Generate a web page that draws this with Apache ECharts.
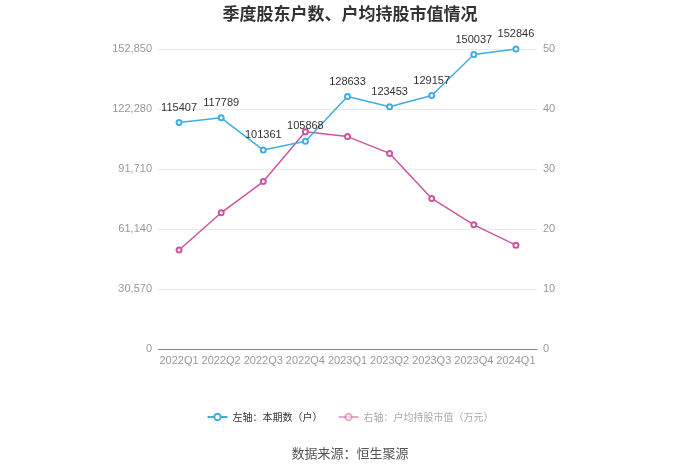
<!DOCTYPE html>
<html style="height: 100%">
<head>
    <meta charset="utf-8">
    <title>季度股东户数、户均持股市值情况</title>
    <script type="text/javascript" src="https://cdn.jsdelivr.net/npm/echarts@6/dist/echarts.min.js"></script>
</head>
<body style="width: 100%;margin: 0;height: 100%">
<div id="container" style="width: 700px;height: 473px"></div>
<script type="application/javascript">
    // 季度
    var quarters = ['2022Q1', '2022Q2', '2022Q3', '2022Q4', '2023Q1', '2023Q2', '2023Q3', '2023Q4', '2024Q1'];
    // 左轴: 本期数(户)
    var holders = [115407, 117789, 101361, 105868, 128633, 123453, 129157, 150037, 152846];
    // 右轴: 户均持股市值(万元)
    var avgValue = [16.5, 22.7, 27.9, 36.2, 35.4, 32.6, 25.1, 20.7, 17.3];

    var blue = '#41ace3';
    var pink = '#cc559f';

    var dom = document.getElementById("container");
    var myChart = echarts.init(dom);

    var option = {
        animation: false,
        title: {
            text: '季度股东户数、户均持股市值情况',
            left: 'center',
            top: 0,
            textStyle: {fontSize: 17, fontWeight: 'bold', color: '#333', fontFamily: 'Noto Sans CJK SC'}
        },
        legend: {
            bottom: 46,
            itemGap: 15,
            itemWidth: 20,
            itemHeight: 8,
            textStyle: {fontSize: 10, fontFamily: 'Noto Sans CJK SC', color: '#333'},
            data: [
                {name: '左轴：本期数（户）'},
                {name: '右轴：户均持股市值（万元）', textStyle: {color: '#aaa'}, itemStyle: {opacity: 0.5}, lineStyle: {opacity: 0.5}}
            ]
        },
        graphic: [{
            type: 'text',
            left: 'center',
            top: 447,
            style: {text: '数据来源：恒生聚源', fontSize: 13, fill: '#555', fontFamily: 'Noto Sans CJK SC'}
        }],
        grid: {left: 158, right: 163, top: 49, bottom: 124},
        xAxis: {
            type: 'category',
            data: quarters,
            axisLine: {lineStyle: {color: '#888'}},
            axisTick: {alignWithLabel: true, lineStyle: {color: '#888'}},
            axisLabel: {color: '#999', fontSize: 11, margin: 6, interval: 0}
        },
        yAxis: [{
            type: 'value',
            min: 0,
            max: 152850,
            interval: 30570,
            axisLabel: {
                color: '#999', fontSize: 11, margin: 6,
                formatter: function (v) { return v.toLocaleString('en-US'); }
            },
            splitLine: {lineStyle: {color: '#e8ebf0'}}
        }, {
            type: 'value',
            min: 0,
            max: 50,
            interval: 10,
            axisLabel: {color: '#999', fontSize: 11, margin: 6},
            splitLine: {show: false}
        }],
        series: [{
            name: '左轴：本期数（户）',
            type: 'line',
            yAxisIndex: 0,
            data: holders,
            symbol: 'emptyCircle',
            symbolSize: 5,
            color: blue,
            lineStyle: {width: 1.5, color: blue},
            label: {show: true, position: 'top', color: '#333', fontSize: 11, distance: 6},
            z: 3
        }, {
            name: '右轴：户均持股市值（万元）',
            type: 'line',
            yAxisIndex: 1,
            data: avgValue,
            symbol: 'emptyCircle',
            symbolSize: 5,
            color: pink,
            lineStyle: {width: 1.5, color: pink},
            z: 2
        }]
    };

    myChart.setOption(option);
</script>
</body>
</html>
